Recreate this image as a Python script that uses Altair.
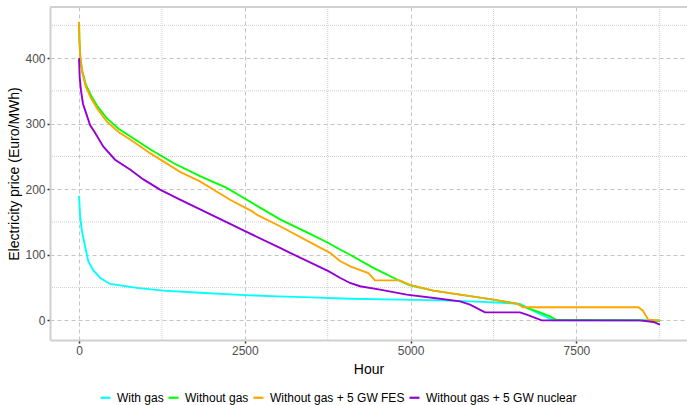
import altair as alt
import pandas as pd

series_names = ["With gas", "Without gas", "Without gas + 5 GW FES", "Without gas + 5 GW nuclear"]
series_colors = ["#00FFFF", "#00FF00", "#FFA500", "#9400D3"]

with_gas_hour = [0, 15, 40, 90, 140, 216, 317, 467, 870, 1271, 1825, 2500, 3000, 3500, 4086, 4840, 5443, 6000, 6449, 6650, 6900, 7150, 8760]
with_gas_price = [190, 160, 138, 113, 90, 76, 65, 55.5, 49.5, 45.3, 42, 38.5, 36.5, 35, 33, 31.6, 30.5, 28.5, 26.5, 25, 12, 0, 0]

without_gas_hour = [0, 5, 20, 50, 100, 180, 280, 420, 600, 800, 1071, 1422, 1824, 2227, 2503, 3031, 3500, 3760, 3935, 4086, 4438, 4840, 4991, 5342, 5845, 6247, 6600, 6751, 6951, 7100, 7203, 8500, 8760]
without_gas_price = [455, 430, 400, 380, 360, 343, 326, 308, 292, 279, 261, 240, 220, 202, 185.5, 154, 131, 118, 108, 100, 80, 60, 53.5, 45.3, 37.7, 31.6, 25.5, 19, 12, 6, 0.5, 0, -1]

fes_hour = [0, 5, 20, 50, 100, 180, 280, 420, 600, 800, 1071, 1422, 1523, 1824, 2277, 2503, 2600, 2700, 3031, 3634, 3785, 3935, 4100, 4363, 4463, 4840, 4991, 5342, 5845, 6247, 6600, 6700, 8434, 8500, 8584, 8760]
fes_price = [455, 428, 398, 378, 357, 339, 322, 303, 287, 274, 255, 233, 226.5, 212, 184, 172, 167, 160, 143.5, 111, 103, 90.5, 82, 72, 61, 61, 54, 45.3, 37.7, 31.6, 25.5, 20, 20, 15, 1, 0]

nuclear_hour = [0, 10, 30, 60, 100, 166, 241, 367, 543, 769, 970, 1221, 1523, 2177, 2503, 3031, 3182, 3760, 3935, 4086, 4237, 4539, 4941, 5443, 5745, 5896, 6122, 6650, 6751, 6977, 8459, 8660, 8760]
nuclear_price = [400, 370, 350, 330, 318, 298, 286, 265, 245, 230, 215, 199.5, 184, 152, 136, 110.5, 103, 75, 65, 57, 52, 46.8, 39.2, 33, 29, 24, 12.2, 12.2, 8.7, 0, 0, -2.5, -6.6]

x_major = [0, 2500, 5000, 7500]
x_minor = [1250, 3750, 6250, 8750]
y_major = [0, 100, 200, 300, 400]
y_minor = [50, 150, 250, 350, 450]

rows = []
for name, hs, ps in zip(series_names,
                        [with_gas_hour, without_gas_hour, fes_hour, nuclear_hour],
                        [with_gas_price, without_gas_price, fes_price, nuclear_price]):
    for h, p in zip(hs, ps):
        rows.append({"series": name, "hour": h, "price": p})
df = pd.DataFrame(rows)

FONT = "Liberation Sans"
W, H = 637, 333

x_enc = alt.X("hour:Q",
              scale=alt.Scale(domain=[-438, 9168], nice=False, zero=False),
              axis=alt.Axis(values=x_major, format="d", title="Hour",
                            grid=True, gridDash=[4, 3], gridColor="#C4C4C4", gridWidth=1,
                            domain=True, domainColor="#D0D0D0", domainWidth=2,
                            ticks=True, tickColor="#333333", tickSize=3, tickWidth=1.5,
                            labelFontSize=12, labelColor="#4D4D4D", labelPadding=2,
                            titleFontSize=14, titleFontWeight="normal", titleColor="black",
                            titlePadding=6))
y_enc = alt.Y("price:Q",
              scale=alt.Scale(domain=[-30, 478], nice=False, zero=False),
              axis=alt.Axis(values=y_major, format="d", title="Electricity price (Euro/MWh)",
                            grid=True, gridDash=[4, 3], gridColor="#C4C4C4", gridWidth=1,
                            domain=True, domainColor="#D0D0D0", domainWidth=2,
                            ticks=True, tickColor="#333333", tickSize=3, tickWidth=1.5,
                            labelFontSize=12, labelColor="#4D4D4D", labelPadding=2,
                            titleFontSize=14, titleFontWeight="normal", titleColor="black",
                            titlePadding=3))

minor_v = alt.Chart(pd.DataFrame({"hour": x_minor})).mark_rule(
    color="#CFCFCF", strokeDash=[1, 1], strokeWidth=1).encode(x=x_enc)
minor_h = alt.Chart(pd.DataFrame({"price": y_minor})).mark_rule(
    color="#CFCFCF", strokeDash=[1, 1], strokeWidth=1).encode(y=y_enc)

color_enc = alt.Color("series:N",
                      scale=alt.Scale(domain=series_names, range=series_colors),
                      legend=alt.Legend(orient="none", legendX=49, legendY=384,
                                        direction="horizontal", title=None,
                                        symbolType="stroke", symbolSize=100,
                                        symbolStrokeWidth=2.2,
                                        labelFontSize=12, labelFont=FONT,
                                        labelColor="black", columnPadding=0,
                                        labelOffset=5))

lines = [
    alt.Chart(df).transform_filter(alt.datum.series == name)
    .mark_line(strokeWidth=1.9)
    .encode(x=x_enc, y=y_enc, color=color_enc, order="hour:Q")
    for name in series_names
]

top_border = alt.Chart(pd.DataFrame({"a": [0]})).mark_rule(
    color="#D0D0D0", strokeWidth=2).encode(x=alt.value(0), x2=alt.value(W), y=alt.value(0))

chart = alt.layer(minor_v, minor_h, *lines, top_border).properties(
    width=W, height=H,
    autosize=alt.AutoSizeParams(type="none"),
    padding={"left": 50, "top": 7, "right": 0, "bottom": 65},
).configure_view(stroke=None).configure_axis(
    labelFont=FONT, titleFont=FONT
).configure(background="white")

chart.save("out.html", embed_options={"renderer": "svg", "actions": False})
